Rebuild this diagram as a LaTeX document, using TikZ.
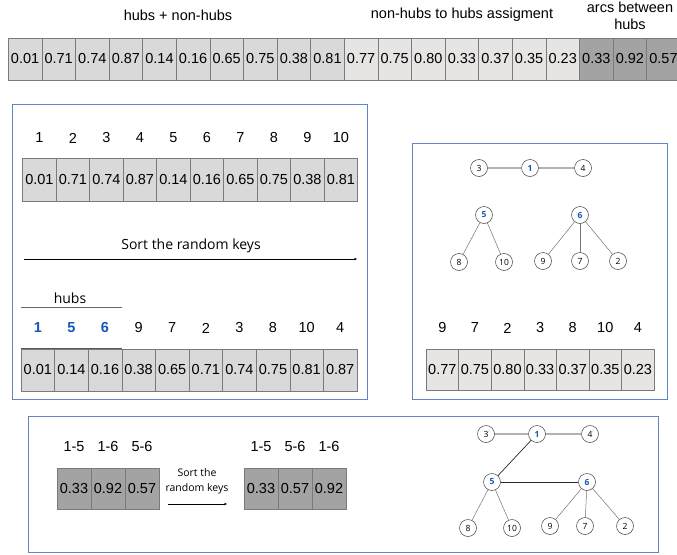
\documentclass[tikz,border=0pt]{standalone}
\usepackage{fontspec}
\setmainfont{Liberation Sans}
\newfontfamily\labelfont{Open Sans}
\usetikzlibrary{arrows.meta}
\definecolor{boxblue}{HTML}{5F84C8}
\definecolor{hubblue}{HTML}{1756B8}
\definecolor{keygray}{HTML}{D9D9D9}
\definecolor{assigngray}{HTML}{E7E4E4}
\definecolor{arcgray}{HTML}{A3A3A3}
\definecolor{cellline}{HTML}{7A7A7A}

\begin{document}
\begin{tikzpicture}[x=1pt,y=-1pt,
 rkey/.style={draw=cellline,line width=.6pt,fill=keygray,minimum width=33.6pt,
              minimum height=42pt,inner sep=0pt,font=\fontsize{14.5}{16}\selectfont},
 assign/.style={rkey,fill=assigngray},
 arckey/.style={rkey,fill=arcgray},
 panel/.style={draw=boxblue,line width=.8pt,anchor=north west,inner sep=0pt},
 idx/.style={font=\fontsize{14.5}{16}\selectfont},
 hubidx/.style={font=\fontsize{14.5}{16}\selectfont\bfseries,text=hubblue},
 title/.style={font=\fontsize{14.5}{16}\selectfont,align=center},
 note/.style={font=\labelfont\fontsize{14}{15}\selectfont,align=center},
 vert/.style={circle,draw=black!75,line width=.5pt,minimum size=17pt,inner sep=0pt,
              font=\labelfont\fontsize{8.5}{9}\selectfont},
 hubvert/.style={vert,font=\labelfont\fontsize{8.5}{9}\selectfont\bfseries,text=hubblue},
 tie/.style={draw=black!30,line width=1.1pt},
 leaf/.style={draw=black!55,line width=.5pt},
 hubarc/.style={draw=black!85,line width=.7pt},
 flow/.style={-{Stealth[length=3pt,width=2.6pt]},line width=.6pt}]
\useasboundingbox (0,0) rectangle (677,554);

% encoded chromosome
\node[title] (ttlkeys) at (178,15) {hubs + non-hubs};
\node[title] (ttlassign) at (462,15) {non-hubs to hubs assigment};
\node[title,font=\fontsize{14.5}{17}\selectfont] (ttlarcs) at (630,16) {arcs between\\hubs};
\foreach \v [count=\i] in {0.01,0.71,0.74,0.87,0.14,0.16,0.65,0.75,0.38,0.81}
  \node[rkey] (top\i) at ({8.3+33.6*(\i-.5)},59) {\v};
\foreach \v [count=\i from 11] in {0.77,0.75,0.80,0.33,0.37,0.35,0.23}
  \node[assign] (top\i) at ({8.3+33.6*(\i-.5)},59) {\v};
\foreach \v [count=\i from 18] in {0.33,0.92,0.57}
  \node[arckey] (top\i) at ({8.3+33.6*(\i-.5)},59) {\v};

% hub selection
\node[panel,minimum width=355.5pt,minimum height=294.5pt] (sortpanel) at (11.5,104) {};
\foreach \v [count=\i] in {0.01,0.71,0.74,0.87,0.14,0.16,0.65,0.75,0.38,0.81}{
  \node[idx] (num\i) at ({22.7+33.5*(\i-.5)},138) {\i};
  \node[rkey,minimum width=33.5pt,minimum height=43pt] (raw\i) at ({22.7+33.5*(\i-.5)},179.5) {\v};
}
\node[note] (sortlab) at (191,246) {Sort the random keys};
\coordinate (sortfrom) at (24,259);
\coordinate (sortto) at (357,259);
\draw[flow] (sortfrom) -- (sortto);

\node[note] (hubslab) at (70,298) {hubs};
\coordinate (hubsL) at (21,307);
\coordinate (hubsR) at (122,307);
\draw[black!60,line width=.8pt] (hubsL) -- (hubsR);
\foreach \n/\v [count=\i] in {1/0.01,5/0.14,6/0.16}{
  \node[hubidx] (snum\i) at ({21+33.6*(\i-.5)},328) {\n};
  \node[rkey] (srt\i) at ({21+33.6*(\i-.5)},370) {\v};
}
\foreach \n/\v [count=\i from 4] in {9/0.38,7/0.65,2/0.71,3/0.74,8/0.75,10/0.81,4/0.87}{
  \node[idx] (snum\i) at ({21+33.6*(\i-.5)},328) {\n};
  \node[rkey] (srt\i) at ({21+33.6*(\i-.5)},370) {\v};
}
\draw[black!65,line width=1.1pt] (srt1.north west) -- (srt3.north east);

% assignment of non-hubs
\node[panel,minimum width=255pt,minimum height=256pt] (assignpanel) at (412,143) {};
\node[vert] (a3) at (479,168) {3};
\node[hubvert] (a1) at (530,168) {1};
\node[vert] (a4) at (583,168) {4};
\node[hubvert] (a5) at (484,215) {5};
\node[hubvert] (a6) at (580,215) {6};
\node[vert] (a8) at (459,262) {8};
\node[vert] (a10) at (504,262) {10};
\node[vert] (a9) at (543,261) {9};
\node[vert] (a7) at (580,261) {7};
\node[vert] (a2) at (618,261) {2};
\draw[tie] (a3) -- (a1);
\draw[tie] (a1) -- (a4);
\draw[leaf] (a5) -- (a8);
\draw[leaf] (a5) -- (a10);
\draw[leaf] (a6) -- (a9);
\draw[leaf] (a6) -- (a7);
\draw[leaf] (a6) -- (a2);
\foreach \n/\v [count=\i] in {9/0.77,7/0.75,2/0.80,3/0.33,8/0.37,10/0.35,4/0.23}{
  \node[idx] (anum\i) at ({426+32.6*(\i-.5)},328) {\n};
  \node[assign,minimum width=32.6pt,minimum height=41pt] (asg\i) at ({426+32.6*(\i-.5)},369.5) {\v};
}

% arcs between hubs
\node[panel,minimum width=630pt,minimum height=136pt] (arcpanel) at (28,416) {};
\foreach \n/\v [count=\i] in {1-5/0.33,1-6/0.92,5-6/0.57}{
  \node[idx] (pair\i) at ({57+34*(\i-.5)},447) {\n};
  \node[arckey,minimum width=34pt,minimum height=41pt] (arc\i) at ({57+34*(\i-.5)},488.5) {\v};
}
\node[note,font=\labelfont\fontsize{10.5}{15}\selectfont] (arcsortlab) at (197,481) {Sort the\\random keys};
\coordinate (arcfrom) at (168,504);
\coordinate (arcto) at (227,504);
\draw[flow] (arcfrom) -- (arcto);
\foreach \n/\v [count=\i] in {1-5/0.33,5-6/0.57,1-6/0.92}{
  \node[idx] (spair\i) at ({244+34*(\i-.5)},447) {\n};
  \node[arckey,minimum width=34pt,minimum height=41pt] (sarc\i) at ({244+34*(\i-.5)},488.5) {\v};
}
\node[vert] (b3) at (486,434) {3};
\node[hubvert] (b1) at (537,434) {1};
\node[vert] (b4) at (590,434) {4};
\node[hubvert] (b5) at (492,482) {5};
\node[hubvert] (b6) at (587,482) {6};
\node[vert] (b8) at (468,528) {8};
\node[vert] (b10) at (512,528) {10};
\node[vert] (b9) at (550,526) {9};
\node[vert] (b7) at (585,526) {7};
\node[vert] (b2) at (625,526) {2};
\draw[tie] (b3) -- (b1);
\draw[tie] (b1) -- (b4);
\draw[hubarc] (b1) -- (b5);
\draw[hubarc] (b5) -- (b6);
\draw[leaf] (b5) -- (b8);
\draw[leaf] (b5) -- (b10);
\draw[leaf] (b6) -- (b9);
\draw[leaf] (b6) -- (b7);
\draw[leaf] (b6) -- (b2);
\end{tikzpicture}
\end{document}
